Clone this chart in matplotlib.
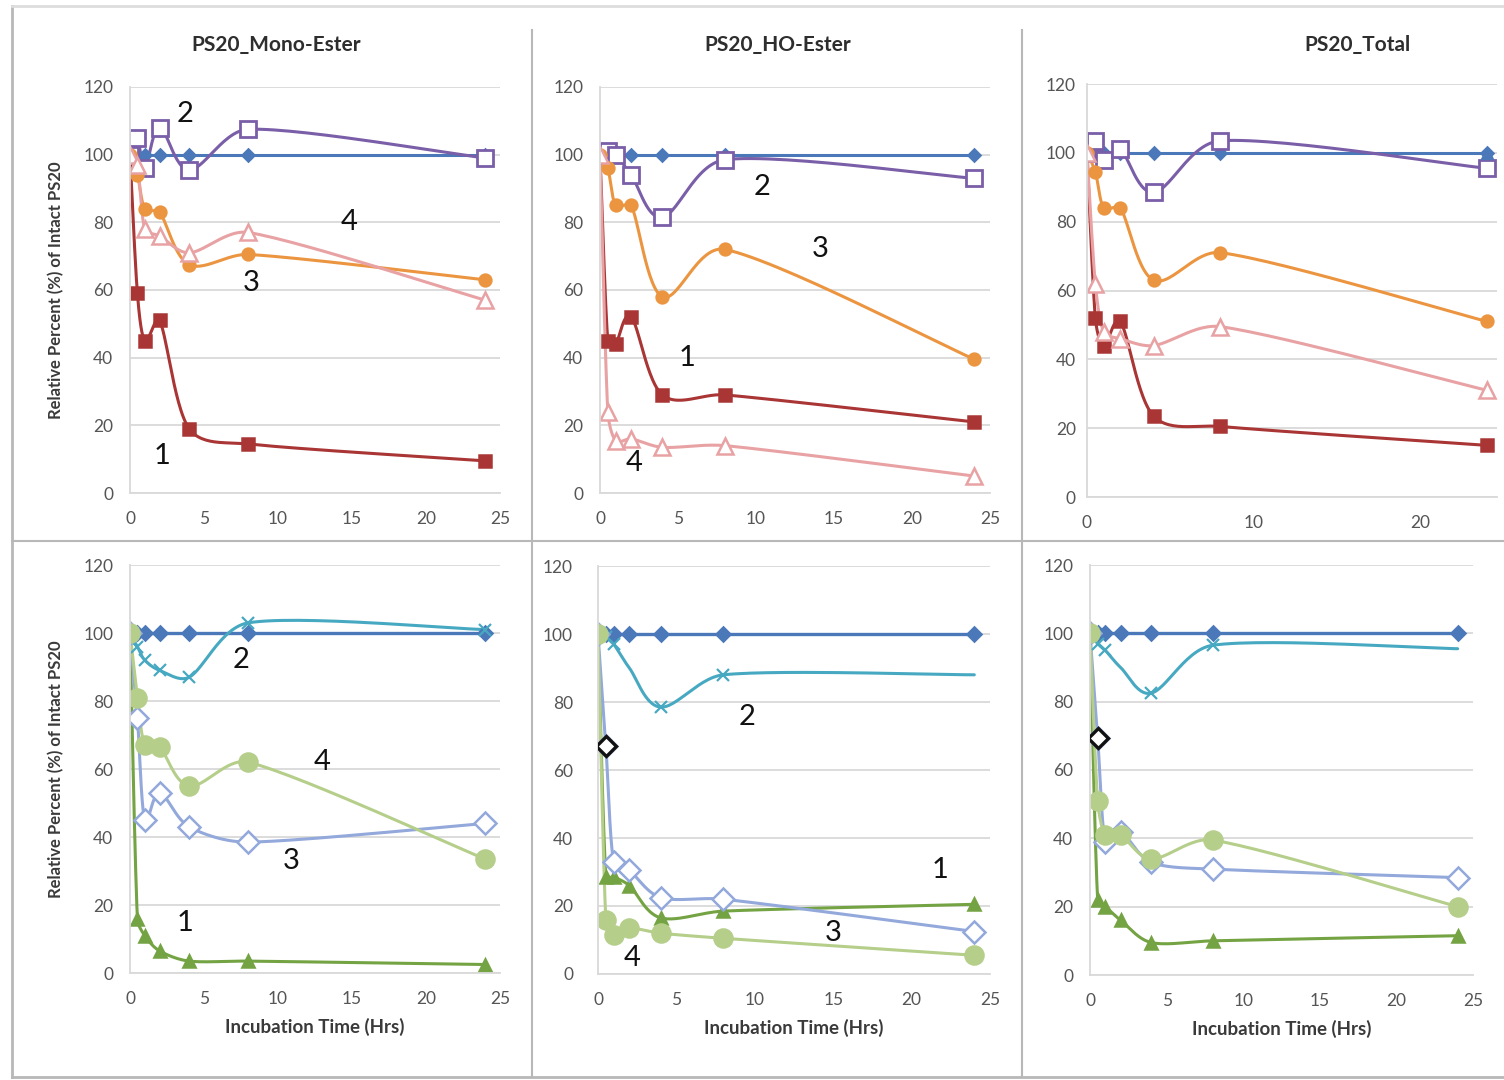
import numpy as np
import matplotlib
matplotlib.use("Agg")
import matplotlib.pyplot as plt
from matplotlib.lines import Line2D

plt.rcParams['font.family'] = ['Lato', 'DejaVu Sans']

# sampling times (hrs)
t = [0, 0.5, 1, 2, 4, 8, 24]

# top row: PS20 species, condition A
ctrl = [100, 100, 100, 100, 100, 100, 100]
mono_s1 = [100, 59, 45, 51, 19, 14.5, 9.5]
mono_s2 = [100, 105, 96, 108, 95.5, 107.5, 99]
mono_s3 = [100, 94, 84, 83, 67.5, 70.5, 63]
mono_s4 = [100, 97, 78, 76, 71, 77, 57]

ho_s1 = [100, 45, 44, 52, 29, 29, 21]
ho_s2 = [100, 101, 100, 94, 81.5, 98.5, 93]
ho_s3 = [100, 96, 85, 85, 58, 72, 39.5]
ho_s4 = [100, 24, 15.5, 16, 13.5, 14, 5]

tot_s1 = [100, 52, 44, 51, 23.5, 20.5, 15]
tot_s2 = [100, 103.5, 98, 101, 88.5, 103.5, 95.5]
tot_s3 = [100, 94.5, 84, 84, 63, 71, 51]
tot_s4 = [100, 62, 48, 46, 44, 49.5, 31]

# bottom row: condition B
mono2_s1 = [100, 16, 11, 6.5, 3.5, 3.5, 2.5]
mono2_s2 = [100, 96, 92, 89, 87, 103, 101]
mono2_s3 = [100, 75, 45, 53, 43, 38.5, 44]
mono2_s4 = [100, 81, 67, 66.5, 55, 62, 33.5]

ho2_s1 = [100, 28.5, 28.5, 26, 16.5, 18.5, 20.5]
ho2_s2 = [100, 99, 97, 90, 78.5, 88, 88]
ho2_s3 = [100, 67, 33, 30.5, 22.5, 22, 12.5]
ho2_s4 = [100, 16, 11.5, 13.5, 12, 10.5, 5.5]

tot2_s1 = [100, 22, 20, 16, 9.5, 10, 11.5]
tot2_s2 = [100, 97, 95, 90, 82.5, 96.5, 95.5]
tot2_s3 = [100, 69.5, 39, 42, 33, 31, 28.5]
tot2_s4 = [100, 51, 41, 41, 34, 39.5, 20]

titles = ["PS20_Mono-Ester", "PS20_HO-Ester", "PS20_Total"]
ylab = "Relative Percent (%) of Intact PS20"
xlab = "Incubation Time (Hrs)"

# curve labels: (text, x, y)
labels_top = [
    [("2", 3.7, 112), ("4", 14.8, 80), ("3", 8.2, 62), ("1", 2.2, 11)],
    [("2", 10.4, 90.5), ("3", 14.1, 72), ("1", 5.6, 40), ("4", 2.2, 9)],
    [],
]
labels_bot = [
    [("2", 7.5, 92), ("4", 13.0, 62), ("3", 10.9, 33), ("1", 3.7, 14.7)],
    [("2", 9.5, 75.6), ("1", 21.8, 30.6), ("3", 15.0, 12), ("4", 2.2, 4.7)],
    [],
]


def smooth(x, y, n=30, sx=15.0, sy=3.4, frac=0.35):
    # catmull-rom bezier in pixel-ish units, handles clamped so short hops don't loop
    P = np.column_stack([np.asarray(x, float) * sx, np.asarray(y, float) * sy])
    P = np.vstack([P[0], P, P[-1]])
    s = np.linspace(0, 1, n)[:, None]
    out = []
    for i in range(1, len(P) - 2):
        p0, p1, p2, p3 = P[i - 1], P[i], P[i + 1], P[i + 2]
        seg_len = np.linalg.norm(p2 - p1)
        v1 = (p2 - p0) / 6.0
        v2 = (p3 - p1) / 6.0
        for v in (v1, v2):
            L = np.linalg.norm(v)
            if L > frac * seg_len and L > 0:
                v *= frac * seg_len / L
        c1 = p1 + v1
        c2 = p2 - v2
        seg = ((1 - s) ** 3) * p1 + 3 * ((1 - s) ** 2) * s * c1 + 3 * (1 - s) * s ** 2 * c2 + s ** 3 * p2
        out.append(seg if i == 1 else seg[1:])
    out = np.vstack(out)
    return out[:, 0] / sx, out[:, 1] / sy


def series(ax, y, color, marker, ms, mfc=None, mec=None, lw=2.2, mew=1.8, every=None, z=2):
    xs, ys = smooth(t, y)
    ax.plot(xs, ys, color=color, lw=lw, zorder=z, solid_capstyle='round')
    idx = every if every is not None else list(range(len(t)))
    ax.plot([t[i] for i in idx], [y[i] for i in idx], ls='none', marker=marker, ms=ms,
            mfc=mfc if mfc else color, mec=mec if mec else color, mew=mew, zorder=z + 0.5)


fig = plt.figure(figsize=(15.04, 10.8), dpi=100)
W, H = 1504.0, 1080.0


def rect(x0, x1, ytop, ybot):
    return [x0 / W, 1 - ybot / H, (x1 - x0) / W, (ybot - ytop) / H]


top_rects = [rect(130, 500, 87, 493), rect(600, 990, 87, 493), rect(1087, 1497, 84, 497)]
bot_rects = [rect(130, 500, 565, 973), rect(598, 990, 566, 974), rect(1090, 1473, 565, 975)]

grid_c = '#d9d9d9'
tick_c = '#555555'
lab_c = '#3a3a3a'


def style(ax, xmax=25, xticks=(0, 5, 10, 15, 20, 25), ypad=12):
    ax.set_xlim(0, xmax)
    ax.set_ylim(0, 120)
    ax.set_yticks(range(0, 121, 20))
    ax.set_xticks(list(xticks))
    ax.grid(axis='y', color=grid_c, lw=1.3)
    ax.set_axisbelow(True)
    for s in ['top', 'right']:
        ax.spines[s].set_visible(False)
    ax.spines['left'].set_color(grid_c)
    ax.spines['bottom'].set_color(grid_c)
    ax.spines['left'].set_linewidth(1.3)
    ax.spines['bottom'].set_linewidth(1.3)
    ax.tick_params(length=0, labelsize=12.5, colors=tick_c)
    ax.tick_params(axis='x', pad=13)
    ax.tick_params(axis='y', pad=ypad)


blue = '#4a78b8'
red = '#a93535'
purple = '#7a5ea8'
orange = '#ec9540'
pink = '#e8a2a4'
green = '#74a343'
teal = '#47a9c1'
lblue = '#93a8db'
lgreen = '#b5ce8a'

top_data = [(mono_s1, mono_s2, mono_s3, mono_s4),
            (ho_s1, ho_s2, ho_s3, ho_s4),
            (tot_s1, tot_s2, tot_s3, tot_s4)]
bot_data = [(mono2_s1, mono2_s2, mono2_s3, mono2_s4),
            (ho2_s1, ho2_s2, ho2_s3, ho2_s4),
            (tot2_s1, tot2_s2, tot2_s3, tot2_s4)]

for k in range(3):
    ax = fig.add_axes(top_rects[k])
    if k == 2:
        style(ax, xmax=24.6, xticks=(0, 10, 20), ypad=8)
    else:
        style(ax)
    s1, s2, s3, s4 = top_data[k]
    series(ax, ctrl, blue, 'D', 6)
    if k == 2:
        ax.plot([t[-1]], [ctrl[-1]], ls='none', marker='^', ms=9, color=blue, zorder=3)
    series(ax, s1, red, 's', 8.5)
    series(ax, s2, purple, 's', 12, mfc='white', mew=2.0)
    series(ax, s3, orange, 'o', 8.5)
    series(ax, s4, pink, '^', 12, mfc='white', mew=1.8)
    for txt, x, y in labels_top[k]:
        ax.text(x, y, txt, fontsize=21, ha='center', va='center', color='#111111')
    if k == 0:
        ax.set_ylabel(ylab, fontsize=12, fontweight='bold', color=lab_c, labelpad=14)
    fig.text([276, 778, 1358][k] / W, 1 - 45 / H, titles[k], fontsize=15,
             fontweight='bold', color='#2e2e2e', ha='center', va='center')

for k in range(3):
    ax = fig.add_axes(bot_rects[k])
    style(ax, ypad=[12, 18, 12][k])
    s1, s2, s3, s4 = bot_data[k]
    series(ax, ctrl, blue, 'D', 7, lw=2.4)
    series(ax, s1, green, '^', 9)
    ev2 = None if k == 0 else [0, 1, 2, 4, 5]
    series(ax, s2, teal, 'x', 9, every=ev2, mew=1.6)
    series(ax, s3, lblue, 'D', 11, mfc='white', mew=1.8)
    if k > 0:
        ax.plot([t[1]], [s3[1]], ls='none', marker='D', ms=10, mfc='white', mec='#111111',
                mew=2.4, zorder=4)
    series(ax, s4, lgreen, 'o', 13)
    for txt, x, y in labels_bot[k]:
        ax.text(x, y, txt, fontsize=21, ha='center', va='center', color='#111111')
    if k == 0:
        ax.set_ylabel(ylab, fontsize=12, fontweight='bold', color=lab_c, labelpad=14)
    ax.set_xlabel(xlab, fontsize=13.5, fontweight='bold', color=lab_c, labelpad=8)

# panel dividers and outer frame
frame_c = '#b8b8b8'
fig.add_artist(Line2D([532 / W, 532 / W], [1 - 30 / H, 1 - 1077 / H], color=frame_c, lw=1.5))
fig.add_artist(Line2D([1022 / W, 1022 / W], [1 - 30 / H, 1 - 1077 / H], color=frame_c, lw=1.5))
fig.add_artist(Line2D([12 / W, 1], [1 - 541 / H, 1 - 541 / H], color=frame_c, lw=1.5))
fig.add_artist(Line2D([12 / W, 12 / W], [1 - 6 / H, 1 - 1077 / H], color=frame_c, lw=2.0))
fig.add_artist(Line2D([12 / W, 1], [1 - 6 / H, 1 - 6 / H], color='#dddddd', lw=2.0))
fig.add_artist(Line2D([12 / W, 1], [1 - 1077 / H, 1 - 1077 / H], color=frame_c, lw=2.0))

fig.savefig("out.png", dpi=100)
